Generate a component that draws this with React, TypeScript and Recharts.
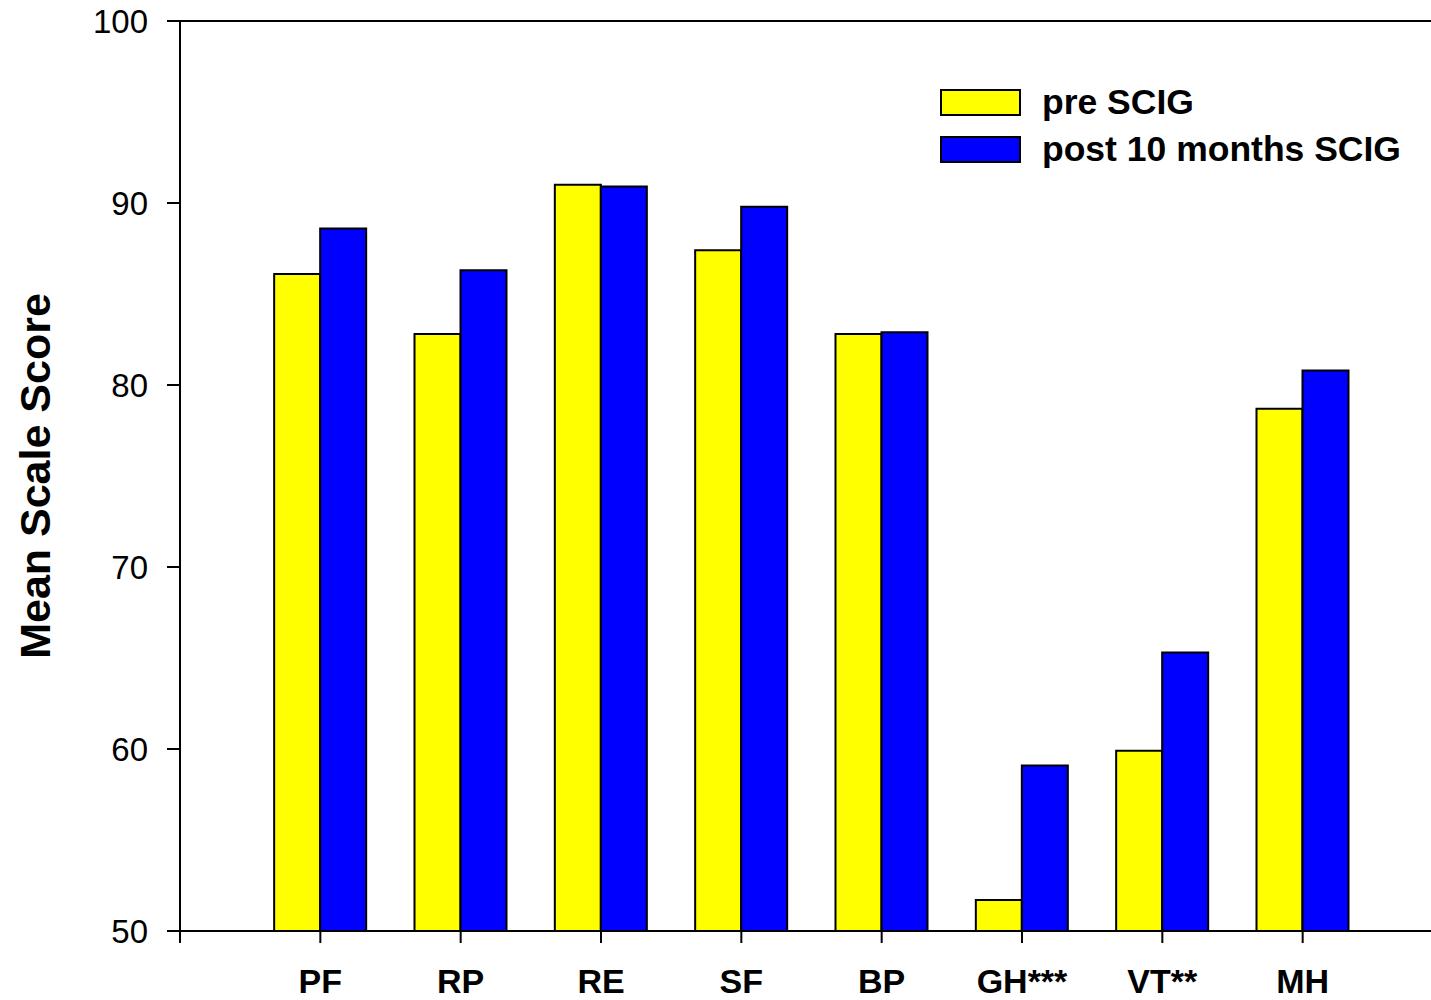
import React from "react";
import { Bar, BarChart, Label, ReferenceLine, XAxis, YAxis } from "recharts";

// SF-36 scale scores, pre vs post 10 months SCIG
const categories = ["PF", "RP", "RE", "SF", "BP", "GH***", "VT**", "MH"];
const preScig = [86.1, 82.8, 91.0, 87.4, 82.8, 51.7, 59.9, 78.7];
const postScig = [88.6, 86.3, 90.9, 89.8, 82.9, 59.1, 65.3, 80.8];
const yTicks = [50, 60, 70, 80, 90, 100];
const xTicks = [0, 1, 2, 3, 4, 5, 6, 7, 8];

const FONT = "Arial, 'Liberation Sans', Helvetica, sans-serif";
const YELLOW = "#ffff00";
const BLUE = "#0000ff";

const data = categories.map((c, i) => ({ x: i + 1, name: c, pre: preScig[i], post: postScig[i] }));

const legendItems = [
  { label: "pre SCIG", color: YELLOW },
  { label: "post 10 months SCIG", color: BLUE },
];

// legend sits over the plot, so keep it out of recharts' layout
function LegendBox() {
  return (
    <div style={{ position: "absolute", left: 940, top: 79, fontFamily: FONT }}>
      {legendItems.map((it) => (
        <div key={it.label} style={{ display: "flex", alignItems: "center", height: 47 }}>
          <div style={{ width: 77, height: 23, background: it.color, border: "2px solid #000" }} />
          <span style={{ marginLeft: 21, fontSize: 35.5, fontWeight: "bold", color: "#000", whiteSpace: "nowrap" }}>
            {it.label}
          </span>
        </div>
      ))}
    </div>
  );
}

export default function App() {
  return (
    <div style={{ position: "absolute", left: 0, top: 0, width: 1431, height: 1000, overflow: "hidden", background: "#fff" }}>
      <BarChart
        width={1460}
        height={1000}
        data={data}
        margin={{ top: 21, right: 17, bottom: 0, left: 0 }}
        barSize={46}
        barGap={0}
      >
        <XAxis
          dataKey="x"
          type="number"
          domain={[0, 9]}
          ticks={xTicks}
          interval={0}
          height={69}
          tickFormatter={(v: number) => categories[v - 1] ?? ""}
          tick={{ fill: "#000", fontSize: 34, fontWeight: "bold", fontFamily: FONT }}
          tickSize={12}
          tickMargin={26}
          axisLine={{ stroke: "#000", strokeWidth: 2 }}
          tickLine={{ stroke: "#000", strokeWidth: 2 }}
        />
        <YAxis
          domain={[50, 100]}
          ticks={yTicks}
          allowDataOverflow
          width={180}
          tick={{ fill: "#000", fontSize: 33, fontFamily: FONT }}
          tickSize={13}
          tickMargin={19}
          axisLine={{ stroke: "#000", strokeWidth: 2 }}
          tickLine={{ stroke: "#000", strokeWidth: 2 }}
        >
          <Label
            content={({ viewBox }: any) => {
              const cx = 35;
              const cy = viewBox.y + viewBox.height / 2;
              return (
                <text
                  x={cx}
                  y={cy}
                  transform={`rotate(-90, ${cx}, ${cy})`}
                  textAnchor="middle"
                  dy="0.355em"
                  fontFamily={FONT}
                  fontWeight="bold"
                  fontSize={43}
                  fill="#000"
                >
                  Mean Scale Score
                </text>
              );
            }}
          />
        </YAxis>
        <ReferenceLine y={100} stroke="#000" strokeWidth={2} />
        <Bar dataKey="pre" fill={YELLOW} stroke="#000" strokeWidth={2} isAnimationActive={false} />
        <Bar dataKey="post" fill={BLUE} stroke="#000" strokeWidth={2} isAnimationActive={false} />
      </BarChart>
      <LegendBox />
    </div>
  );
}
